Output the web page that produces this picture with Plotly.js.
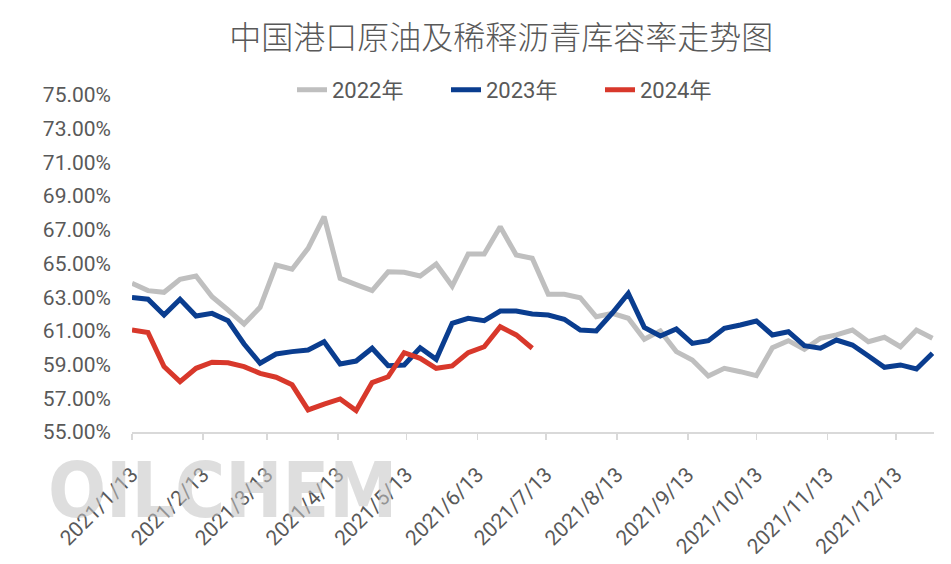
<!DOCTYPE html>
<html>
<head>
<meta charset="utf-8">
<script src="https://cdn.plot.ly/plotly-3.0.1.min.js"></script>
<style>
html,body{margin:0;padding:0;background:#fff;}
#chart{width:951px;height:564px;}
</style>
</head>
<body>
<div id="chart"></div>
<script>
const dates = [
  '2021-01-13','2021-01-20','2021-01-27','2021-02-03','2021-02-10','2021-02-17','2021-02-24',
  '2021-03-03','2021-03-10','2021-03-17','2021-03-24','2021-03-31','2021-04-07','2021-04-14',
  '2021-04-21','2021-04-28','2021-05-05','2021-05-12','2021-05-19','2021-05-26','2021-06-02',
  '2021-06-09','2021-06-16','2021-06-23','2021-06-30','2021-07-07','2021-07-14','2021-07-21',
  '2021-07-28','2021-08-04','2021-08-11','2021-08-18','2021-08-25','2021-09-01','2021-09-08',
  '2021-09-15','2021-09-22','2021-09-29','2021-10-06','2021-10-13','2021-10-20','2021-10-27',
  '2021-11-03','2021-11-10','2021-11-17','2021-11-24','2021-12-01','2021-12-08','2021-12-15',
  '2021-12-22','2021-12-29'
];

const s2022 = [
  63.82, 63.39, 63.29, 64.06, 64.26, 63.03, 62.24, 61.41, 62.40, 64.91,
  64.66, 65.90, 67.78, 64.12, 63.75, 63.39, 64.51, 64.48, 64.26, 64.97,
  63.66, 65.56, 65.56, 67.18, 65.50, 65.31, 63.17, 63.17, 62.97, 61.84,
  62.04, 61.75, 60.50, 61.00, 59.77, 59.27, 58.32, 58.78, 58.58, 58.34,
  60.00, 60.42, 59.91, 60.56, 60.76, 61.05, 60.36, 60.62, 60.06, 61.05,
  60.56
];

const s2023 = [
  62.99, 62.88, 61.94, 62.88, 61.88, 62.04, 61.60, 60.22, 59.08, 59.63,
  59.77, 59.87, 60.36, 59.04, 59.21, 59.97, 58.93, 58.98, 60.00, 59.31,
  61.45, 61.75, 61.61, 62.18, 62.18, 62.00, 61.94, 61.69, 61.05, 61.00,
  62.06, 63.23, 61.21, 60.70, 61.11, 60.26, 60.42, 61.15, 61.35, 61.59,
  60.76, 60.95, 60.12, 59.97, 60.46, 60.16, 59.51, 58.84, 58.98, 58.74,
  59.67
];

const s2024 = [
  61.05, 60.90, 58.88, 57.99, 58.78, 59.14, 59.11, 58.88, 58.48, 58.25,
  57.80, 56.31, 56.66, 56.96, 56.27, 57.93, 58.28, 59.71, 59.37, 58.78,
  58.92, 59.71, 60.06, 61.25, 60.76, 59.97
];

const seriesNames = ['2022年', '2023年', '2024年'];
const seriesColors = ['#BFBFBF', '#0A3D8F', '#D8382B'];
const chartTitle = '中国港口原油及稀释沥青库容率走势图';
const watermark = 'OILCHEM';

const allSeries = [s2022, s2023, s2024];
const traces = allSeries.map((vals, i) => ({
  type: 'scatter',
  mode: 'lines',
  name: seriesNames[i],
  x: dates.slice(0, vals.length),
  y: vals,
  line: {color: seriesColors[i], width: 5, shape: 'linear'},
  hoverinfo: 'x+y+name'
}));

const layout = {
  width: 951,
  height: 564,
  paper_bgcolor: '#ffffff',
  plot_bgcolor: 'rgba(0,0,0,0)',
  margin: {l: 132, r: 17, t: 95, b: 132, pad: 0},
  font: {family: 'Roboto, "Noto Sans CJK SC", sans-serif', color: '#595959'},
  title: {
    text: chartTitle,
    x: 0.527, xanchor: 'center', xref: 'container',
    y: 0.933, yanchor: 'middle', yref: 'container',
    font: {family: '"Noto Sans CJK SC", sans-serif', size: 32, color: '#595959', weight: 300}
  },
  showlegend: true,
  legend: {
    orientation: 'h',
    x: (292 - 132) / 802, xanchor: 'left',
    y: 1.015, yanchor: 'middle',
    font: {family: 'Roboto, "Noto Sans CJK SC", sans-serif', size: 22, color: '#595959'},
    bgcolor: 'rgba(0,0,0,0)',
    entrywidth: 109,
    entrywidthmode: 'pixels',
    traceorder: 'normal'
  },
  xaxis: {
    type: 'date',
    range: ['2021-01-13', '2021-12-29 16:00'],
    tick0: '2021-01-13',
    dtick: 'M1',
    tickformat: '%Y/%-m/%-d',
    tickangle: -45,
    ticks: 'outside',
    ticklen: 6,
    tickwidth: 1.5,
    tickcolor: '#D9D9D9',
    ticklabelstandoff: 14,
    showline: true,
    linecolor: '#D9D9D9',
    linewidth: 2,
    showgrid: false,
    zeroline: false,
    tickfont: {family: 'Roboto, sans-serif', size: 21, color: '#595959'},
    fixedrange: true
  },
  yaxis: {
    range: [55, 75],
    tick0: 55,
    dtick: 2,
    tickformat: '.2f',
    ticksuffix: '%',
    showline: false,
    showgrid: false,
    zeroline: false,
    ticks: '',
    ticklabelstandoff: 20,
    tickfont: {family: 'Roboto, sans-serif', size: 21, color: '#595959'},
    fixedrange: true
  },
  annotations: [{
    text: '<b>' + watermark + '</b>',
    xref: 'paper', yref: 'paper',
    x: (222 - 132) / 802, y: -(490 - 432) / 337,
    xanchor: 'center', yanchor: 'middle',
    showarrow: false,
    font: {family: '"DejaVu Sans Condensed", "Liberation Sans Narrow", sans-serif', size: 76, color: '#C4C4C4'},
    opacity: 0.55
  }]
};

Plotly.newPlot('chart', traces, layout, {displayModeBar: false, staticPlot: true});
</script>
</body>
</html>
